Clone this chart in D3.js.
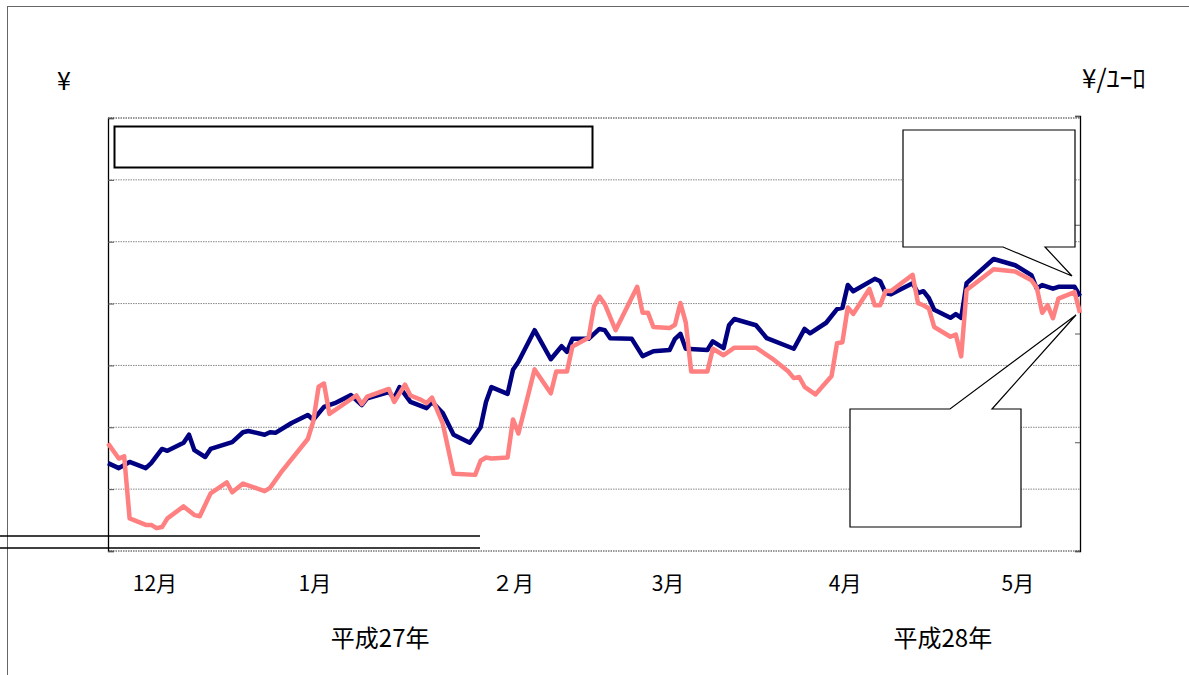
<!DOCTYPE html>
<html><head><meta charset="utf-8">
<script src="https://cdn.jsdelivr.net/npm/d3@7"></script>
<style>
html,body{margin:0;padding:0;background:#fff;}
text{font-family:"Noto Sans CJK JP","Noto Sans",sans-serif;fill:#000;}
</style></head>
<body>
<svg id="chart" width="1189" height="675"></svg>
<script>
// ---- data ----
// x: day index from the start of the period; left axis: ¥ (series A), right axis: ¥/ﾕｰﾛ (series B)
const blueDays = [0,2,4,7,8,10,11,14,15,16,18,19,23,25,26,29,30,31,34,37,38,40,42,45,47,48,52,53,54,56,59,60,62,64,67,69,70,71,74,75,76,79,82,84,85,86,89,91,92,93,97,99,101,104,105,106,107,111,112,114,115,116,120,122,127,129,130,133,135,136,137,138,142,143,144,145,149,150,151,152,153,156,157,158,159,164,168,171,172,173,175,176,179,180];
const blueVals = [142,134,144,134,142,165,162,175,188,163,152,165,176,192,194,188,192,191,207,220,212,233,239,252,236,247,257,247,265,241,231,241,223,188,175,200,241,265,254,293,306,357,310,331,322,343,343,359,357,344,343,315,323,325,343,351,327,325,339,328,365,375,365,344,327,359,352,369,391,393,430,420,440,436,417,415,433,417,420,409,390,377,383,377,433,472,462,446,424,430,424,427,427,412];
const pinkDays = [0,2,3,4,7,8,9,10,11,14,16,17,19,22,23,25,29,30,32,37,38,39,40,41,46,47,48,52,53,55,56,58,59,60,62,64,68,69,70,71,74,75,76,79,82,83,85,86,89,90,91,92,94,96,98,99,100,101,104,105,106,107,108,111,112,114,116,120,123,126,127,128,129,131,134,135,136,137,138,141,142,143,144,145,149,150,151,152,153,156,157,158,159,164,168,171,172,173,174,175,176,179,180];
const pinkVals = [99,85,87,30,24,24,21,22,30,41,33,32,53,63,54,62,55,58,72,103,119,151,154,126,143,135,142,149,137,153,143,139,136,141,117,71,70,83,86,85,86,121,108,167,145,165,165,188,196,225,234,227,203,223,243,219,219,206,205,208,228,210,165,165,186,180,187,187,177,165,159,160,151,144,161,191,192,224,218,241,226,226,239,239,254,228,226,223,206,197,199,179,240,259,257,249,242,219,226,214,232,238,219];
const monthLabels = ["12月","1月","２月","3月","4月","5月"];
const monthLabelDays = [8.7,38.3,75,103.7,136.5,168.5];
const yearLabels = ["平成27年","平成28年"];
const yearLabelDays = [50.4,154.6];
const leftTicks = [0,100,200,300,400,500,600,700];
const rightTicks = [0,100,200,300,400];
const leftTitle = "¥";
const rightTitle = "¥/ﾕｰﾛ";

// ---- layout ----
const W = 1189, H = 675;
const plot = {l:108, r:1080, t:118, b:551};
const svg = d3.select("#chart");

const x = d3.scaleLinear().domain([0,180]).range([plot.l, plot.r]);
const yL = d3.scaleLinear().domain([0,700]).range([plot.b, plot.t]);
const yR = d3.scaleLinear().domain([0,400]).range([plot.b, 116]);

// outer frame
svg.append("line").attr("x1",8).attr("x2",W).attr("y1",6.5).attr("y2",6.5).attr("stroke","#666").attr("stroke-width",1);
svg.append("line").attr("x1",7.5).attr("x2",7.5).attr("y1",6).attr("y2",H).attr("stroke","#666").attr("stroke-width",1);

// gridlines
svg.append("g").selectAll("line").data(leftTicks).join("line")
  .attr("x1",plot.l).attr("x2",plot.r)
  .attr("y1",d=>yL(d)).attr("y2",d=>yL(d))
  .attr("stroke",d=> (d===0||d===700)?"#777":"#888")
  .attr("stroke-width",d=> (d===0||d===700)?1.5:1)
  .attr("stroke-dasharray","1.5,1");

// left axis (ticks inward)
const gL = svg.append("g").attr("transform",`translate(${plot.l},0)`)
  .call(d3.axisRight(yL).tickValues(leftTicks).tickSize(6).tickFormat(""));
gL.select(".domain").attr("stroke","#000").attr("stroke-width",1.3);
gL.selectAll(".tick line").attr("stroke","#555");

// right axis (ticks inward)
const gR = svg.append("g").attr("transform",`translate(${plot.r},0)`)
  .call(d3.axisLeft(yR).tickValues(rightTicks).tickSize(5).tickFormat(""));
gR.select(".domain").attr("stroke","#000").attr("stroke-width",1.3);
gR.selectAll(".tick line").attr("stroke","#555");

// series
const blue = blueDays.map((d,i)=>({d, v:blueVals[i]}));
const pink = pinkDays.map((d,i)=>({d, v:pinkVals[i]}));
svg.append("path").datum(blue)
  .attr("fill","none").attr("stroke","#000080").attr("stroke-width",4.5)
  .attr("stroke-linejoin","round")
  .attr("d", d3.line().x(p=>x(p.d)).y(p=>yL(p.v)));
svg.append("path").datum(pink)
  .attr("fill","none").attr("stroke","#ff8080").attr("stroke-width",4.5)
  .attr("stroke-linejoin","round")
  .attr("d", d3.line().x(p=>x(p.d)).y(p=>yR(p.v)));

// top-left empty legend box
svg.append("rect").attr("x",114.5).attr("y",126.5).attr("width",478).attr("height",41)
  .attr("fill","#fff").attr("stroke","#000").attr("stroke-width",2);

// callouts
const callout1 = [[903,130],[1075,130],[1075,247],[1045,247],[1072,276],[1003,247],[903,247]];
svg.append("path").attr("d", d3.line()(callout1)+"Z")
  .attr("fill","#fff").attr("stroke","#000").attr("stroke-width",1.2);
const callout2 = [[850,409],[950,409],[1076,315],[992,409],[1021,409],[1021,527],[850,527]];
svg.append("path").attr("d", d3.line()(callout2)+"Z")
  .attr("fill","#fff").attr("stroke","#000").attr("stroke-width",1.2);

// double lines bottom-left
[536,548].forEach(yy=>{
  svg.append("line").attr("x1",0).attr("x2",480).attr("y1",yy).attr("y2",yy)
    .attr("stroke","#000").attr("stroke-width",1.5);
});

// axis titles
svg.append("text").attr("x",64).attr("y",90).attr("text-anchor","middle")
  .style("font-size","25px").text(leftTitle);
svg.append("text").attr("x",1082).attr("y",88).attr("text-anchor","start")
  .style("font-size","26px").text(rightTitle);

// month labels
svg.append("g").selectAll("text").data(monthLabels).join("text")
  .attr("x",(d,i)=>x(monthLabelDays[i])).attr("y",591)
  .attr("text-anchor","middle").style("font-size","21px").text(d=>d);

// year labels
svg.append("g").selectAll("text").data(yearLabels).join("text")
  .attr("x",(d,i)=>x(yearLabelDays[i])).attr("y",647)
  .attr("text-anchor","middle").style("font-size","24px").text(d=>d);
</script>
</body></html>
